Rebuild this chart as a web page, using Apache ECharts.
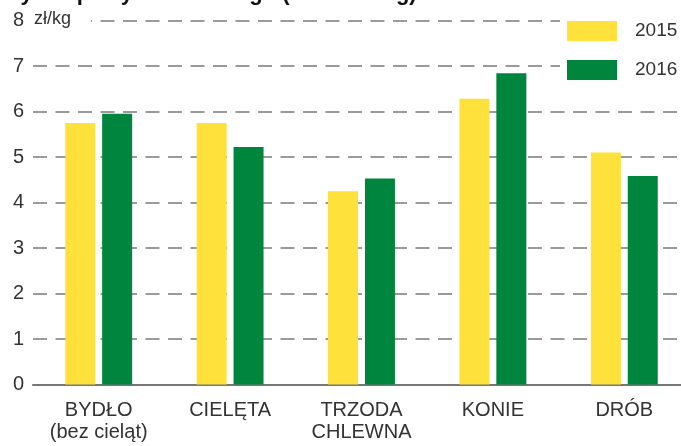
<!DOCTYPE html>
<html>
<head>
<meta charset="utf-8">
<script src="https://cdn.jsdelivr.net/npm/echarts@6/dist/echarts.min.js"></script>
<style>
html,body{margin:0;padding:0;background:#fff;}
#chart{width:681px;height:446px;}
</style>
</head>
<body>
<div id="chart"></div>
<script>
const titleText = 'Ceny skupu żywca rzeźnego (w zł za 1 kg)';
const unitLabel = 'zł/kg';
const categories = ['BYDŁO\n(bez cieląt)', 'CIELĘTA', 'TRZODA\nCHLEWNA', 'KONIE', 'DRÓB'];
const seriesNames = ['2015', '2016'];
const values2015 = [5.75, 5.75, 4.25, 6.28, 5.10];
const values2016 = [5.95, 5.22, 4.53, 6.84, 4.58];
const yTicks = [0, 1, 2, 3, 4, 5, 6, 7, 8];

const FONT = '"Liberation Sans", Arial, Helvetica, sans-serif';
const chart = echarts.init(document.getElementById('chart'), null, {renderer: 'canvas'});
chart.setOption({
  animation: false,
  backgroundColor: '#ffffff',
  textStyle: {fontFamily: FONT},
  title: {
    text: titleText,
    left: -21,
    top: -17,
    padding: 0,
    textStyle: {fontFamily: FONT, fontSize: 22, fontWeight: 'bold', color: '#111'}
  },
  legend: {
    orient: 'vertical',
    left: 560,
    top: 11,
    padding: [10, 20, 10, 7],
    backgroundColor: '#ffffff',
    itemWidth: 50,
    itemHeight: 20,
    itemGap: 19,
    icon: 'rect',
    data: seriesNames,
    textStyle: {fontFamily: FONT, fontSize: 19, color: '#333', lineHeight: 20, padding: [0, 0, 0, 13]}
  },
  grid: {left: 33, right: -9, top: 20.5, bottom: 61.5, containLabel: false, outerBoundsMode: 'none'},
  xAxis: {
    type: 'category',
    data: categories,
    axisTick: {show: false},
    axisLine: {lineStyle: {color: '#777', width: 2}},
    axisLabel: {fontFamily: FONT, fontSize: 20, color: '#333', margin: 15, lineHeight: 22, interval: 0}
  },
  yAxis: {
    type: 'value',
    min: yTicks[0],
    max: yTicks[yTicks.length - 1],
    interval: 1,
    axisLine: {show: false},
    axisTick: {show: false},
    axisLabel: {fontFamily: FONT, fontSize: 20, color: '#333', margin: 9},
    splitLine: {lineStyle: {color: '#9a9a9a', width: 2, type: [14, 8.5]}}
  },
  graphic: [{
    type: 'text',
    z: 100,
    left: 30,
    top: 10,
    style: {
      text: unitLabel,
      font: '18px ' + FONT,
      fill: '#333',
      backgroundColor: '#fff',
      padding: [0, 20, 0, 4]
    }
  }],
  series: [
    {
      name: seriesNames[0], type: 'bar', data: values2015,
      barWidth: 30, barGap: '23%',
      itemStyle: {color: '#FEE13A'}
    },
    {
      name: seriesNames[1], type: 'bar', data: values2016,
      barWidth: 30, barGap: '23%',
      itemStyle: {color: '#00853E'}
    }
  ]
});
</script>
</body>
</html>
